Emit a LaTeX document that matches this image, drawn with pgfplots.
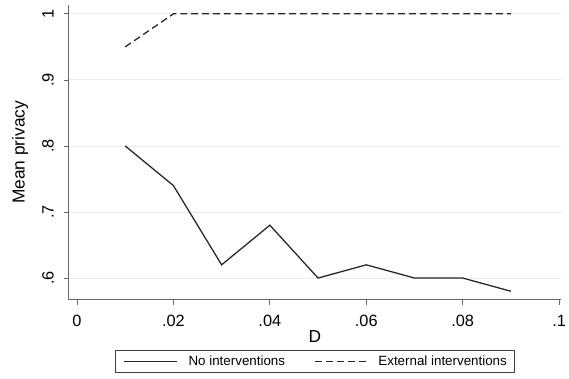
\documentclass[border=0pt]{standalone}
\usepackage{pgfplots}
\pgfplotsset{compat=1.18}
\usepackage{fontspec}
\setmainfont{Liberation Sans}
\begin{document}
\begin{tikzpicture}
\begin{axis}[
  scale only axis, width=497.5bp, height=298bp,
  xmin=-0.0017, xmax=0.1004, ymin=0.567, ymax=1.0135,
  axis x line*=bottom, axis y line*=left,
  axis line style={black!60, line width=0.9pt},
  xtick={0,0.02,0.04,0.06,0.08,0.1}, xticklabels={0,.02,.04,.06,.08,.1},
  ytick={0.6,0.7,0.8,0.9,1}, yticklabels={.6,.7,.8,.9,1},
  yticklabel style={xshift=-10bp, rotate=90, anchor=south, font=\fontsize{16.5bp}{18bp}\selectfont, inner sep=0pt},
  xticklabel style={font=\fontsize{16.5bp}{18bp}\selectfont, inner sep=0pt, yshift=-10bp},
  tick align=outside, major tick length=5bp, tick style={black!60, line width=0.8pt},
  ymajorgrids, grid style={black!8, line width=0.9pt},
  xlabel={D}, ylabel={Mean privacy},
  xlabel style={font=\fontsize{17.5bp}{19bp}\selectfont, at={(axis description cs:0.5,-0.123)}, anchor=center},
  ylabel style={font=\fontsize{17.5bp}{19bp}\selectfont, at={(axis description cs:-0.099,0.5)}, anchor=center},
  legend columns=2,
  legend style={at={(0.5,-0.171)}, anchor=north, draw=black!75, line width=0.8pt,
    font=\fontsize{13.5bp}{16bp}\selectfont,
    inner xsep=8bp, inner ysep=5.5bp,
    nodes={inner sep=0pt},
    /tikz/column 1/.style={column sep=11bp},
    /tikz/column 2/.style={column sep=30bp},
    /tikz/column 3/.style={column sep=9bp}},
  legend image code/.code={\draw[#1] (0bp,0bp) -- (54bp,0bp);},
]
\addplot[black!85, line width=1.3pt] coordinates {
(0.01,0.80) (0.02,0.74) (0.03,0.62) (0.04,0.68) (0.05,0.60) (0.06,0.62) (0.07,0.60) (0.08,0.60) (0.09,0.58)};
\addlegendentry{No interventions}
\addplot[black!85, line width=1.3pt, dash pattern=on 7bp off 4bp] coordinates {
(0.01,0.95) (0.02,1.00) (0.03,1.00) (0.04,1.00) (0.05,1.00) (0.06,1.00) (0.07,1.00) (0.08,1.00) (0.09,1.00)};
\addlegendentry{External interventions}
\coordinate (sw) at (rel axis cs:0,0);
\coordinate (ne) at (rel axis cs:1,1);
\end{axis}
\pgfresetboundingbox
\path ([xshift=-69.5bp,yshift=-79bp]sw) rectangle ([xshift=8bp,yshift=5bp]ne);
\end{tikzpicture}
\end{document}
